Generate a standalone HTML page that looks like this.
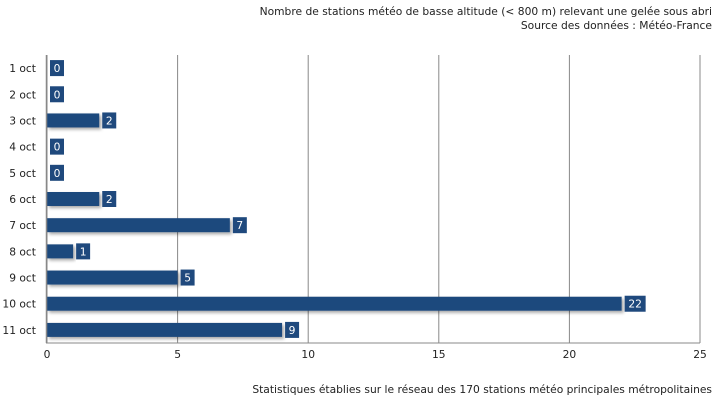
<!DOCTYPE html>
<html><head><meta charset="utf-8"><style>
body{margin:0;background:#fff;font-family:"DejaVu Sans","Liberation Sans",sans-serif;}
svg text{font-family:"DejaVu Sans","Liberation Sans",sans-serif;font-size:10.7px;fill:#222;}
</style></head><body>
<svg id="c" width="715" height="404">
<defs><filter id="sh" x="-5%" y="-20%" width="115%" height="160%"><feDropShadow dx="2" dy="2" stdDeviation="1.5" flood-color="#000" flood-opacity="0.35"/></filter></defs>
<text x="712" y="15" text-anchor="end">Nombre de stations météo de basse altitude (&lt; 800 m) relevant une gelée sous abri</text>
<text x="712" y="29" text-anchor="end">Source des données : Météo-France</text>
<text x="712" y="393" text-anchor="end">Statistiques établies sur le réseau des 170 stations météo principales métropolitaines</text>
<g id="grid"></g><g id="bars"></g><g id="axes"></g>
</svg>
<script>
const categories=["1 oct","2 oct","3 oct","4 oct","5 oct","6 oct","7 oct","8 oct","9 oct","10 oct","11 oct"];
const values=[0,0,2,0,0,2,7,1,5,22,9];
const ticks=[0,5,10,15,20,25];
(function(){
const NS="http://www.w3.org/2000/svg";
const x0=47,x1=700,pTop=55,pBot=343,maxV=25;
const xs=v=>x0+(x1-x0)*v/maxV;
const band=(pBot-pTop)/categories.length;
const yc=i=>pTop+band*(i+0.5);
function mk(t,a,p){const e=document.createElementNS(NS,t);for(const k in a)e.setAttribute(k,a[k]);p.appendChild(e);return e;}
const g=document.getElementById('grid'),b=document.getElementById('bars'),ax=document.getElementById('axes');
ticks.forEach(t=>{
 const l=mk('line',{x1:xs(t),x2:xs(t),y1:pTop,y2:pBot,stroke:'#888','stroke-width':1},g);
 
 
 const tx=mk('text',{x:xs(t),y:pBot+15,'text-anchor':'middle'},ax);tx.textContent=t;
 
 
});
const al=mk('line',{x1:x0-0.5,x2:x0-0.5,y1:pTop,y2:pBot,stroke:'#888','stroke-width':1.5},ax);


const bl=mk('line',{x1:x0-1,x2:x1,y1:pBot,y2:pBot,stroke:'#888','stroke-width':1},ax);


categories.forEach((c,i)=>{
 const y=yc(i),v=values[i];
 const lb=mk('text',{x:36,y:y+4,'text-anchor':'end'},ax);lb.textContent=c;
 
 
 if(v>0){const r=mk('rect',{x:x0,y:y-7,width:xs(v)-x0,height:14,fill:'#1f497d',filter:'url(#sh)'},b);
 
 }
 const s=String(v),w=7*s.length+7,bx=(v>0?xs(v)+3:x0+3);
 const box=mk('rect',{x:bx,y:y-8,width:w,height:16,fill:'#1f497d'},b);
 
 
 const vt=mk('text',{x:bx+w/2,y:y+4,'text-anchor':'middle',style:'fill:#fff'},b);vt.textContent=s;
 
 
});
})();
</script>
</body></html>
